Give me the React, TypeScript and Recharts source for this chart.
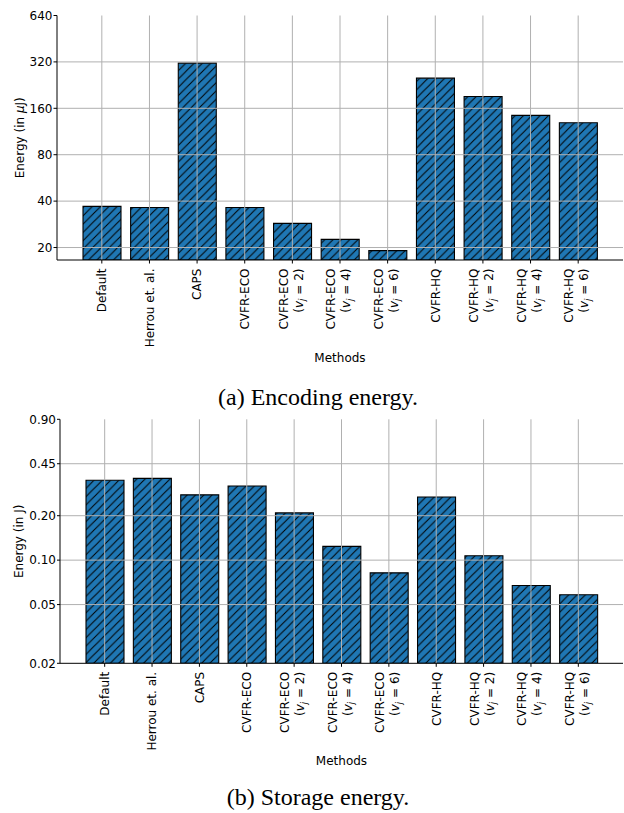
import React from 'react';
import { BarChart, Bar, XAxis, YAxis, ReferenceLine, Label } from 'recharts';

// ---------- data ----------
const methodNames = ['Default', 'Herrou et. al.', 'CAPS', 'CVFR-ECO', 'CVFR-ECO', 'CVFR-ECO', 'CVFR-ECO', 'CVFR-HQ', 'CVFR-HQ', 'CVFR-HQ', 'CVFR-HQ'];
const vjValues: (number | null)[] = [null, null, null, null, 2, 4, 6, null, 2, 4, 6];
const encodingEnergy = [37.0, 36.4, 314, 36.4, 28.7, 22.6, 19.1, 251, 191, 144, 129];
const storageEnergy = [0.348, 0.358, 0.277, 0.318, 0.209, 0.124, 0.082, 0.268, 0.107, 0.0674, 0.0583];
const encodingTicks = [20, 40, 80, 160, 320, 640];
const storageTicks = [0.02, 0.05, 0.1, 0.2, 0.45, 0.9];
const encodingDomain = [16.6, 640];
const storageDomain = [0.02, 0.9];

const categoryKeys = methodNames.map((n, i) => (vjValues[i] == null ? n : `${n} (vj = ${vjValues[i]})`));
const encodingData = categoryKeys.map((k, i) => ({ method: k, value: encodingEnergy[i] }));
const storageData = categoryKeys.map((k, i) => ({ method: k, value: storageEnergy[i] }));

const FONT = 'DejaVu Sans, Verdana, sans-serif';
const BLUE = '#1f77b4';
const GRID = '#b0b0b0';
const HATCH = 8.3;

const MethodTick = (props: any) => {
  const { x, y, payload } = props;
  const idx = categoryKeys.indexOf(payload.value);
  const name = methodNames[idx];
  const vj = vjValues[idx];
  const lines: React.ReactNode[] = [name];
  if (vj != null) {
    lines.push(
      <>
        {'('}
        <tspan fontStyle="italic">v</tspan>
        <tspan fontStyle="italic" fontSize={8.5} dy={2.5}>j</tspan>
        <tspan dy={-2.5}>{` = ${vj})`}</tspan>
      </>
    );
  }
  const n = lines.length;
  const gap = 15;
  return (
    <g>
      {lines.map((c, i) => {
        const lx = x + (i - (n - 1) / 2) * gap + (n > 1 ? -1.5 : 0);
        const ly = y + 3;
        return (
          <text
            key={i}
            x={lx}
            y={ly}
            transform={`rotate(-90 ${lx} ${ly})`}
            textAnchor="end"
            dy="0.36em"
            fontSize={12}
            fontFamily={FONT}
            fill="#000"
          >
            {c}
          </text>
        );
      })}
    </g>
  );
};

const makeXLabel = (dyFromAxis: number) => (props: any) => {
  const vb = props.viewBox || { x: 0, y: 0, width: 0, height: 0 };
  return (
    <text
      x={vb.x + vb.width / 2}
      y={vb.y + dyFromAxis}
      textAnchor="middle"
      dominantBaseline="central"
      fontSize={12}
      fontFamily={FONT}
      fill="#000"
    >
      Methods
    </text>
  );
};

const makeYLabel = (unit: React.ReactNode) => (props: any) => {
  const vb = props.viewBox || { x: 0, y: 0, width: 0, height: 0 };
  const cx = vb.x + 19.5;
  const cy = vb.y + vb.height / 2;
  return (
    <text
      x={cx}
      y={cy}
      transform={`rotate(-90 ${cx} ${cy})`}
      textAnchor="middle"
      dominantBaseline="central"
      fontSize={12}
      fontFamily={FONT}
      fill="#000"
    >
      {'Energy (in '}
      {unit}
      {'J)'}
    </text>
  );
};

type PanelProps = {
  id: string;
  data: { method: string; value: number }[];
  ticks: number[];
  domain: number[];
  fmt: (v: number) => string;
  height: number;
  marginTop: number;
  yWidth: number;
  xHeight: number;
  unit: React.ReactNode;
  tickSize: number;
};

const Panel = ({ id, data, ticks, domain, fmt, height, marginTop, yWidth, xHeight, unit, tickSize }: PanelProps) => (
  <BarChart
    width={624}
    height={height}
    data={data}
    margin={{ top: marginTop, right: 1, left: 0, bottom: 0 }}
  >
    <defs>
      <pattern id={id} patternUnits="userSpaceOnUse" width={HATCH} height={HATCH}>
        <rect width={HATCH} height={HATCH} fill={BLUE} />
        <path
          d={`M-1,1 L1,-1 M0,${HATCH} L${HATCH},0 M${HATCH - 1},${HATCH + 1} L${HATCH + 1},${HATCH - 1}`}
          stroke="#000"
          strokeWidth="1"
        />
      </pattern>
    </defs>
    <Bar dataKey="value" fill={`url(#${id})`} stroke="#000" strokeWidth={1.1} barSize={38} isAnimationActive={false} />
    {categoryKeys.map((k) => (
      <ReferenceLine key={'gx' + k} x={k} stroke={GRID} strokeWidth={1} />
    ))}
    {ticks
      .filter((t) => t !== domain[0] && t !== domain[1])
      .map((t) => (
        <ReferenceLine key={'gy' + t} y={t} stroke={GRID} strokeWidth={1} />
      ))}
    <XAxis
      dataKey="method"
      interval={0}
      height={xHeight}
      padding={{ left: 21, right: 21 }}
      tick={<MethodTick />}
      tickSize={3.5}
      tickMargin={2}
      tickLine={{ stroke: '#000' }}
      axisLine={{ stroke: '#000', strokeWidth: 1 }}
    >
      <Label content={makeXLabel(98)} />
    </XAxis>
    <XAxis xAxisId="top" orientation="top" dataKey="method" height={0} tick={false} tickLine={false} axisLine={{ stroke: '#000', strokeWidth: 1 }} />
    <YAxis
      scale="log"
      type="number"
      domain={domain}
      allowDataOverflow
      ticks={ticks}
      interval={0}
      tickFormatter={fmt}
      width={yWidth}
      tickSize={tickSize}
      tickMargin={1}
      tickLine={{ stroke: '#000' }}
      axisLine={{ stroke: '#000', strokeWidth: 1 }}
      tick={{ fontSize: 12, fontFamily: FONT, fill: '#000' }}
    >
      <Label content={makeYLabel(unit)} />
    </YAxis>
    <YAxis yAxisId="right" orientation="right" width={0} tick={false} tickLine={false} axisLine={{ stroke: '#000', strokeWidth: 1 }} />
  </BarChart>
);

const captionStyle: React.CSSProperties = {
  position: 'absolute',
  left: 6,
  width: 624,
  textAlign: 'center',
  fontFamily: '"Liberation Serif", "Times New Roman", serif',
  fontSize: 24,
  lineHeight: '28px',
  color: '#000',
  whiteSpace: 'nowrap',
};

export default function App() {
  return (
    <div style={{ position: 'absolute', left: 0, top: 0, width: 624, height: 813, overflow: 'hidden', background: '#fff' }}>
      <div style={{ position: 'absolute', left: 0, top: 0 }}>
        <Panel
          id="hatchA"
          data={encodingData}
          ticks={encodingTicks}
          domain={encodingDomain}
          fmt={(v) => String(v)}
          height={400}
          marginTop={15.5}
          yWidth={57}
          xHeight={140}
          unit={<tspan fontStyle="italic">μ</tspan>}
          tickSize={3.5}
        />
      </div>
      <div style={{ ...captionStyle, top: 382.5 }}>(a) Encoding energy.</div>
      <div style={{ position: 'absolute', left: 0, top: 400 }}>
        <Panel
          id="hatchB"
          data={storageData}
          ticks={storageTicks}
          domain={storageDomain}
          fmt={(v) => v.toFixed(2)}
          height={413}
          marginTop={19.3}
          yWidth={60}
          xHeight={149.7}
          unit={null}
          tickSize={3}
        />
      </div>
      <div style={{ ...captionStyle, top: 782.5 }}>(b) Storage energy.</div>
    </div>
  );
}
